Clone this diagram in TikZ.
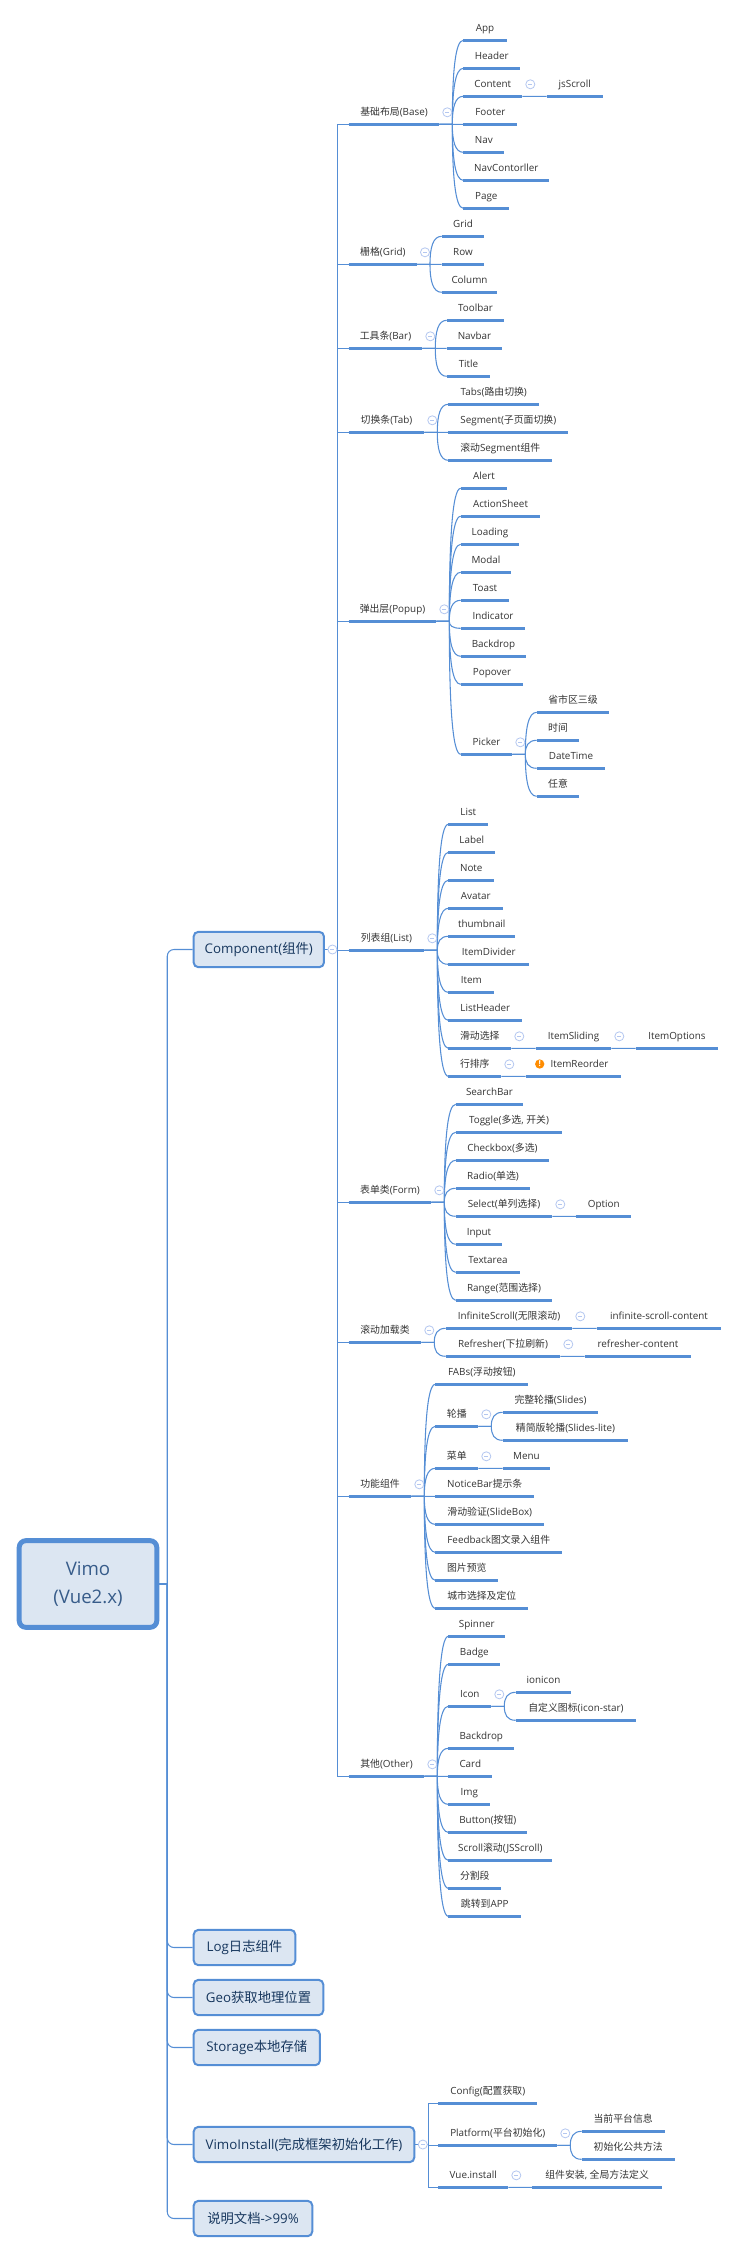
\documentclass[tikz,border=0pt]{standalone}
\usepackage{fontspec}
\setmainfont{Open Sans}
\newfontfamily\cjk{Noto Sans CJK SC}
\newcommand{\zh}[1]{{\cjk #1}}
\newcommand{\minus}{\rule{3pt}{.5pt}}
\usetikzlibrary{
    calc,
    positioning
}
\definecolor{mapblue}{HTML}{558ED5}
\definecolor{mapfill}{HTML}{DCE6F2}
\definecolor{foldblue}{HTML}{B4C7F0}
\definecolor{boxtext}{HTML}{17375E}
\tikzset{
    x=.75pt, y=-.75pt,
    wide/.style={minimum width=#1*.75pt},
    bar/.style={draw=mapblue, line width=2pt},
    link/.style={draw=mapblue, line width=.8pt},
    item/.style={anchor=south west, outer sep=0pt, inner xsep=0pt, inner ysep=5.25pt,
        text height=6pt, text depth=1.5pt, text=black!80, font=\fontsize{7.4}{9}\selectfont,
        append after command={(\tikzlastnode.south west) edge[bar] (\tikzlastnode.south east)}},
    topic/.style={draw=mapblue, fill=mapfill, line width=1.5pt, rounded corners=3.5pt,
        minimum height=26.5pt, inner sep=0pt, text=boxtext, font=\fontsize{10}{12}\selectfont},
    rootbox/.style={draw=mapblue, fill=mapfill, line width=3.7pt, rounded corners=5pt,
        minimum width=103.2pt, minimum height=65pt, inner sep=0pt, align=center,
        text=mapblue!65!black, font=\fontsize{14}{21}\selectfont},
    fold/.style={circle, draw=foldblue, fill=white, line width=.6pt, inner sep=0pt,
        minimum size=6.8pt, text=foldblue},
    warn/.style={circle, fill=orange!90!yellow, inner sep=0pt, minimum size=7pt,
        text=white, font=\fontsize{6}{6}\selectfont\bfseries},
    branch/.style={to path={(\tikztostart.south east) -- ++(13,0) coordinate (j)
        .. controls ($(j)!.6!(j |- \tikztotarget.south west)$)
        and ($(j |- \tikztotarget.south west)!.25!(\tikztotarget.south west)$)
        .. (\tikztotarget.south west)}},
    stem/.style={to path={(\tikztostart.east) -- ++(13,0) |- (\tikztotarget.south west)}},
    trunk/.style={to path={(\tikztostart.east) -- ++(8,0) [rounded corners=5pt] |- (\tikztotarget.west)}}
}
\begin{document}
\begin{tikzpicture}
    \useasboundingbox (0,0) rectangle (739,2254);
    % main boxes
    \node[rootbox] (root) at (88,1584) {Vimo\\(Vue2.x)};
    \node[topic, wide=130.3] (comp) at (258.8,949.5) {Component(\zh{组件})};
    \node[topic, wide=101.6] (log) at (244.5,1947.5) {Log\zh{日志组件}};
    \node[topic, wide=129.6] (geo) at (258.5,1997.5) {Geo\zh{获取地理位置}};
    \node[topic, wide=126.3] (store) at (256.8,2047.5) {Storage\zh{本地存储}};
    \node[topic, wide=220.6] (vinstall) at (304,2144.5) {VimoInstall(\zh{完成框架初始化工作})};
    \node[topic, wide=118.6] (doc) at (253,2218.5) {\zh{说明文档}->99\%};
    % base
    \node[item, wide=90.6] (base) at (348.7,124.3) {\zh{基础布局}(Base)};
    \node[item, wide=43.4] (app) at (463.3,40.3) {App};
    \node[item, wide=57] (header) at (463.3,68.3) {Header};
    \node[item, wide=59] (content) at (463.3,96.3) {Content};
    \node[item, wide=56] (jsscroll) at (546.7,96.3) {jsScroll};
    \node[item, wide=54] (footer) at (463.3,124.3) {Footer};
    \node[item, wide=41] (nav) at (463.3,152.3) {Nav};
    \node[item, wide=86] (navctl) at (463.3,180.3) {NavContorller};
    \node[item, wide=46] (page) at (463.3,208.3) {Page};
    % grid
    \node[item, wide=68.3] (gridg) at (348.7,264.3) {\zh{栅格}(Grid)};
    \node[item, wide=42.6] (grid) at (441.7,236.3) {Grid};
    \node[item, wide=42.6] (row) at (441.7,264.3) {Row};
    \node[item, wide=55.6] (column) at (441.7,292.3) {Column};
    % bar
    \node[item, wide=73.6] (barg) at (348.7,348.3) {\zh{工具条}(Bar)};
    \node[item, wide=57.6] (toolbar) at (446.7,320.3) {Toolbar};
    \node[item, wide=55.6] (navbar) at (446.7,348.3) {Navbar};
    \node[item, wide=43.6] (title) at (446.7,376.3) {Title};
    % tab
    \node[item, wide=75.6] (tabg) at (348.7,432.3) {\zh{切换条}(Tab)};
    \node[item, wide=91] (tabs) at (448.3,404.3) {Tabs(\zh{路由切换})};
    \node[item, wide=120] (segment) at (448.3,432.3) {Segment(\zh{子页面切换})};
    \node[item, wide=104] (scrollseg) at (448.3,460.3) {\zh{滚动}Segment\zh{组件}};
    % popup
    \node[item, wide=87.6] (popup) at (348.7,621.3) {\zh{弹出层}(Popup)};
    \node[item, wide=46.6] (alert) at (460.7,488.3) {Alert};
    \node[item, wide=79.6] (actionsheet) at (460.7,516.3) {ActionSheet};
    \node[item, wide=58.6] (loading) at (460.7,544.3) {Loading};
    \node[item, wide=50.6] (modal) at (460.7,572.3) {Modal};
    \node[item, wide=48.6] (toast) at (460.7,600.3) {Toast};
    \node[item, wide=64.6] (indicator) at (460.7,628.3) {Indicator};
    \node[item, wide=65.6] (backdrop) at (460.7,656.3) {Backdrop};
    \node[item, wide=62.6] (popover) at (460.7,684.3) {Popover};
    \node[item, wide=51.6] (picker) at (460.7,754.3) {Picker};
    \node[item, wide=72.6] (province) at (536.7,712.3) {\zh{省市区三级}};
    \node[item, wide=42.6] (time) at (536.7,740.3) {\zh{时间}};
    \node[item, wide=68.6] (datetime) at (536.7,768.3) {DateTime};
    \node[item, wide=42.6] (anyone) at (536.7,796.3) {\zh{任意}};
    % list
    \node[item, wide=75.6] (listg) at (348.7,950.3) {\zh{列表组}(List)};
    \node[item, wide=40] (list) at (448.3,824.3) {List};
    \node[item, wide=47] (label) at (448.3,852.3) {Label};
    \node[item, wide=46] (note) at (448.3,880.3) {Note};
    \node[item, wide=55] (avatar) at (448.3,908.3) {Avatar};
    \node[item, wide=67] (thumbnail) at (448.3,936.3) {thumbnail};
    \node[item, wide=81] (itemdivider) at (448.3,964.3) {ItemDivider};
    \node[item, wide=46] (itemg) at (448.3,992.3) {Item};
    \node[item, wide=74] (listheader) at (448.3,1020.3) {ListHeader};
    \node[item, wide=63] (sliding) at (448.3,1048.3) {\zh{滑动选择}};
    \node[item, wide=75.6] (itemsliding) at (535.7,1048.3) {ItemSliding};
    \node[item, wide=82.6] (itemoptions) at (635.7,1048.3) {ItemOptions};
    \node[item, wide=53] (sorting) at (448.3,1076.3) {\zh{行排序}};
    \node[item, wide=95.6] (itemreorder) at (525.7,1076.3) {\hspace{9pt}ItemReorder};
    % form
    \node[item, wide=82.6] (form) at (348.7,1202.3) {\zh{表单类}(Form)};
    \node[item, wide=67.6] (searchbar) at (455.7,1104.3) {SearchBar};
    \node[item, wide=106.6] (toggle) at (455.7,1132.3) {Toggle(\zh{多选}, \zh{开关})};
    \node[item, wide=93.6] (checkbox) at (455.7,1160.3) {Checkbox(\zh{多选})};
    \node[item, wide=74.6] (radio) at (455.7,1188.3) {Radio(\zh{单选})};
    \node[item, wide=96.6] (select) at (455.7,1216.3) {Select(\zh{单列选择})};
    \node[item, wide=55] (option) at (576.3,1216.3) {Option};
    \node[item, wide=46.6] (input) at (455.7,1244.3) {Input};
    \node[item, wide=64.6] (textarea) at (455.7,1272.3) {Textarea};
    \node[item, wide=96.6] (range) at (455.7,1300.3) {Range(\zh{范围选择})};
    % scroll
    \node[item, wide=72.6] (scrollg) at (348.7,1342.3) {\zh{滚动加载类}};
    \node[item, wide=126.6] (infinite) at (445.7,1328.3) {InfiniteScroll(\zh{无限滚动})};
    \node[item, wide=124.6] (infinitec) at (596.7,1328.3) {infinite-scroll-content};
    \node[item, wide=114.6] (refresher) at (445.7,1356.3) {Refresher(\zh{下拉刷新})};
    \node[item, wide=106.6] (refresherc) at (584.7,1356.3) {refresher-content};
    % function
    \node[item, wide=62.6] (func) at (348.7,1496.3) {\zh{功能组件}};
    \node[item, wide=93] (fabs) at (435.3,1384.3) {FABs(\zh{浮动按钮})};
    \node[item, wide=43] (slides) at (435.3,1426.3) {\zh{轮播}};
    \node[item, wide=95.6] (slidefull) at (502.7,1412.3) {\zh{完整轮播}(Slides)};
    \node[item, wide=125.6] (slidelite) at (502.7,1440.3) {\zh{精简版轮播}(Slides-lite)};
    \node[item, wide=43] (menug) at (435.3,1468.3) {\zh{菜单}};
    \node[item, wide=47.6] (menu) at (502.7,1468.3) {Menu};
    \node[item, wide=99] (noticebar) at (435.3,1496.3) {NoticeBar\zh{提示条}};
    \node[item, wide=109] (slidebox) at (435.3,1524.3) {\zh{滑动验证}(SlideBox)};
    \node[item, wide=127] (feedback) at (435.3,1552.3) {Feedback\zh{图文录入组件}};
    \node[item, wide=63] (preview) at (435.3,1580.3) {\zh{图片预览}};
    \node[item, wide=93] (city) at (435.3,1608.3) {\zh{城市选择及定位}};
    % other
    \node[item, wide=75.6] (other) at (348.7,1776.3) {\zh{其他}(Other)};
    \node[item, wide=57] (spinner) at (448.3,1636.3) {Spinner};
    \node[item, wide=52] (badge) at (448.3,1664.3) {Badge};
    \node[item, wide=43] (icon) at (448.3,1706.3) {Icon};
    \node[item, wide=55.6] (ionicon) at (515.7,1692.3) {ionicon};
    \node[item, wide=120.6] (iconstar) at (515.7,1720.3) {\zh{自定义图标}(icon-star)};
    \node[item, wide=66] (backdropo) at (448.3,1748.3) {Backdrop};
    \node[item, wide=44] (card) at (448.3,1776.3) {Card};
    \node[item, wide=42] (img) at (448.3,1804.3) {Img};
    \node[item, wide=79] (button) at (448.3,1832.3) {Button(\zh{按钮})};
    \node[item, wide=104] (scrolljs) at (448.3,1860.3) {Scroll\zh{滚动}(JSScroll)};
    \node[item, wide=53] (divide) at (448.3,1888.3) {\zh{分割段}};
    \node[item, wide=73] (jump) at (448.3,1916.3) {\zh{跳转到}APP};
    % install
    \node[item, wide=99] (config) at (438.3,2103.3) {Config(\zh{配置获取})};
    \node[item, wide=119] (platform) at (438.3,2145.3) {Platform(\zh{平台初始化})};
    \node[item, wide=83] (current) at (581.7,2131.3) {\zh{当前平台信息}};
    \node[item, wide=93] (common) at (581.7,2159.3) {\zh{初始化公共方法}};
    \node[item, wide=70] (vueinstall) at (438.3,2187.3) {Vue.install};
    \node[item, wide=129.6] (define) at (532.3,2187.3) {\zh{组件安装}, \zh{全局方法定义}};
    % links
    \draw[link] (root) edge[trunk] (comp) edge[trunk] (log) edge[trunk] (geo)
        edge[trunk] (store) edge[trunk] (vinstall) edge[trunk] (doc);
    \draw[link] (comp) edge[stem] (base) edge[stem] (gridg) edge[stem] (barg) edge[stem] (tabg)
        edge[stem] (popup) edge[stem] (listg) edge[stem] (form) edge[stem] (scrollg)
        edge[stem] (func) edge[stem] (other);
    \draw[link] (vinstall) edge[stem] (config) edge[stem] (platform) edge[stem] (vueinstall);
    \draw[link] (base) edge[branch] (app) edge[branch] (header) edge[branch] (content)
        edge[branch] (footer) edge[branch] (nav) edge[branch] (navctl) edge[branch] (page);
    \draw[link] (content) edge[branch] (jsscroll);
    \draw[link] (gridg) edge[branch] (grid) edge[branch] (row) edge[branch] (column);
    \draw[link] (barg) edge[branch] (toolbar) edge[branch] (navbar) edge[branch] (title);
    \draw[link] (tabg) edge[branch] (tabs) edge[branch] (segment) edge[branch] (scrollseg);
    \draw[link] (popup) edge[branch] (alert) edge[branch] (actionsheet) edge[branch] (loading)
        edge[branch] (modal) edge[branch] (toast) edge[branch] (indicator)
        edge[branch] (backdrop) edge[branch] (popover) edge[branch] (picker);
    \draw[link] (picker) edge[branch] (province) edge[branch] (time)
        edge[branch] (datetime) edge[branch] (anyone);
    \draw[link] (listg) edge[branch] (list) edge[branch] (label) edge[branch] (note)
        edge[branch] (avatar) edge[branch] (thumbnail) edge[branch] (itemdivider)
        edge[branch] (itemg) edge[branch] (listheader) edge[branch] (sliding) edge[branch] (sorting);
    \draw[link] (sliding) edge[branch] (itemsliding);
    \draw[link] (itemsliding) edge[branch] (itemoptions);
    \draw[link] (sorting) edge[branch] (itemreorder);
    \draw[link] (form) edge[branch] (searchbar) edge[branch] (toggle) edge[branch] (checkbox)
        edge[branch] (radio) edge[branch] (select) edge[branch] (input)
        edge[branch] (textarea) edge[branch] (range);
    \draw[link] (select) edge[branch] (option);
    \draw[link] (scrollg) edge[branch] (infinite) edge[branch] (refresher);
    \draw[link] (infinite) edge[branch] (infinitec);
    \draw[link] (refresher) edge[branch] (refresherc);
    \draw[link] (func) edge[branch] (fabs) edge[branch] (slides) edge[branch] (menug)
        edge[branch] (noticebar) edge[branch] (slidebox) edge[branch] (feedback)
        edge[branch] (preview) edge[branch] (city);
    \draw[link] (slides) edge[branch] (slidefull) edge[branch] (slidelite);
    \draw[link] (menug) edge[branch] (menu);
    \draw[link] (other) edge[branch] (spinner) edge[branch] (badge) edge[branch] (icon)
        edge[branch] (backdropo) edge[branch] (card) edge[branch] (img) edge[branch] (button)
        edge[branch] (scrolljs) edge[branch] (divide) edge[branch] (jump);
    \draw[link] (icon) edge[branch] (ionicon) edge[branch] (iconstar);
    \draw[link] (platform) edge[branch] (current) edge[branch] (common);
    \draw[link] (vueinstall) edge[branch] (define);
    % fold marks
    \node[fold] (fcomp) at ($(comp.east)+(7.5,0)$) {\minus};
    \node[fold] (finstall) at ($(vinstall.east)+(7.5,0)$) {\minus};
    \node[fold] (fbase) at ($(base.south east)+(8,-12)$) {\minus};
    \node[fold] (fcontent) at ($(content.south east)+(8,-12)$) {\minus};
    \node[fold] (fgrid) at ($(gridg.south east)+(8,-12)$) {\minus};
    \node[fold] (fbar) at ($(barg.south east)+(8,-12)$) {\minus};
    \node[fold] (ftab) at ($(tabg.south east)+(8,-12)$) {\minus};
    \node[fold] (fpopup) at ($(popup.south east)+(8,-12)$) {\minus};
    \node[fold] (fpicker) at ($(picker.south east)+(8,-12)$) {\minus};
    \node[fold] (flist) at ($(listg.south east)+(8,-12)$) {\minus};
    \node[fold] (fsliding) at ($(sliding.south east)+(8,-12)$) {\minus};
    \node[fold] (fitem) at ($(itemsliding.south east)+(8,-12)$) {\minus};
    \node[fold] (fsort) at ($(sorting.south east)+(8,-12)$) {\minus};
    \node[fold] (fform) at ($(form.south east)+(8,-12)$) {\minus};
    \node[fold] (fselect) at ($(select.south east)+(8,-12)$) {\minus};
    \node[fold] (fscroll) at ($(scrollg.south east)+(8,-12)$) {\minus};
    \node[fold] (finf) at ($(infinite.south east)+(8,-12)$) {\minus};
    \node[fold] (fref) at ($(refresher.south east)+(8,-12)$) {\minus};
    \node[fold] (ffunc) at ($(func.south east)+(8,-12)$) {\minus};
    \node[fold] (fslides) at ($(slides.south east)+(8,-12)$) {\minus};
    \node[fold] (fmenu) at ($(menug.south east)+(8,-12)$) {\minus};
    \node[fold] (fother) at ($(other.south east)+(8,-12)$) {\minus};
    \node[fold] (ficon) at ($(icon.south east)+(8,-12)$) {\minus};
    \node[fold] (fplat) at ($(platform.south east)+(8,-12)$) {\minus};
    \node[fold] (fvue) at ($(vueinstall.south east)+(8,-12)$) {\minus};
    \node[warn] (warning) at (539.7,1064) {!};
\end{tikzpicture}
\end{document}
